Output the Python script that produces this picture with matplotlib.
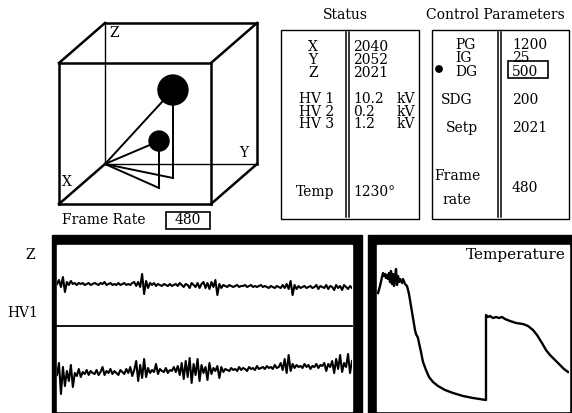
import numpy as np
import matplotlib
matplotlib.use("Agg")
import matplotlib.pyplot as plt
from matplotlib.patches import Rectangle, Circle

plt.rcParams['font.family'] = ['DejaVu Serif', 'DejaVu Sans']

# ---------------- data ----------------
ball_x = [0.35, 0.60]
ball_y = [0.553, 0.537]
ball_z = [0.624, 0.333]
ball_r = [15, 10]

status_axes = ["X", "Y", "Z"]
status_axes_values = ["2040", "2052", "2021"]
status_hv = ["HV 1", "HV 2", "HV 3"]
status_hv_values = ["10.2", "0.2", "1.2"]
status_hv_unit = "kV"
status_temp_label = "Temp"
status_temp_value = "1230°"

control_gain_labels = ["PG", "IG", "DG"]
control_gain_values = ["1200", "25", "500"]
control_other_labels = ["SDG", "Setp", "Frame\nrate"]
control_other_values = ["200", "2021", "480"]
frame_rate = "480"

z_trace = [127, 131, 124, 134, 119, 129, 126, 130, 127, 128,
           126, 128, 127, 128, 126, 127, 128, 126, 127, 128,
           127, 126, 128, 127, 129, 126, 127, 128, 126, 127,
           126, 128, 126, 127, 128, 126, 127, 126, 128, 129,
           125, 129, 124, 137, 117, 130, 123, 128, 126, 128,
           125, 127, 126, 125, 127, 126, 125, 127, 125, 126,
           127, 125, 128, 126, 124, 127, 126, 123, 128, 126,
           124, 128, 123, 127, 129, 123, 128, 122, 129, 124,
           131, 116, 127, 123, 126, 125, 124, 126, 125, 124,
           125, 126, 124, 125, 125, 126, 124, 125, 126, 124,
           125, 124, 125, 126, 124, 125, 124, 123, 125, 124,
           123, 125, 124, 123, 126, 123, 127, 122, 130, 116,
           126, 122, 125, 123, 124, 125, 123, 124, 125, 123,
           124, 126, 122, 125, 124, 123, 126, 122, 125, 124,
           121, 126, 123, 125, 121, 126, 124, 122, 125, 123]

hv1_trace = [36, 48, 17, 44, 25, 40, 30, 46, 24, 38,
             35, 42, 34, 39, 37, 41, 36, 40, 38, 37,
             41, 36, 39, 44, 36, 40, 38, 42, 37, 40,
             38, 36, 41, 39, 37, 42, 38, 44, 35, 41,
             50, 30, 46, 33, 52, 34, 43, 38, 41, 39,
             47, 37, 42, 40, 39, 43, 38, 41, 40, 44,
             39, 45, 36, 48, 32, 50, 34, 53, 28, 47,
             36, 52, 30, 46, 38, 44, 31, 48, 37, 43,
             40, 45, 33, 44, 39, 42, 41, 40, 43, 41,
             42, 40, 44, 41, 43, 42, 40, 44, 42, 43,
             41, 45, 42, 43, 44, 42, 45, 43, 44, 42,
             46, 43, 44, 48, 41, 52, 38, 56, 40, 47,
             43, 46, 44, 45, 43, 47, 44, 46, 42, 45,
             44, 47, 43, 46, 45, 48, 40, 47, 44, 50,
             38, 52, 42, 56, 39, 48, 44, 57, 38, 50]

temp_t = [0, 2, 4, 5, 6, 7, 8, 9, 10, 11, 12, 13, 14, 15, 16, 17, 18, 19, 20,
          21, 22, 24, 25, 27, 29, 31, 33, 35, 37, 38, 39, 40, 41, 43, 45, 48,
          51, 55, 60, 67, 75, 85, 95, 108, 108, 110, 112, 115, 118, 121, 124,
          127, 132, 138, 145, 150, 155, 159, 164, 168, 172, 177, 182, 186, 190]
temp_v = [117, 124, 133, 137, 134, 136, 132, 135, 131, 137, 128, 139, 126, 136,
          124, 133, 141, 125, 134, 128, 131, 127, 131, 126, 124, 116, 104, 92,
          80, 76, 74, 72, 67, 58, 48, 40, 33, 28, 24, 20, 17, 14, 12, 10, 95,
          93, 94, 92, 93, 92, 93, 91, 89, 87, 86, 84, 80, 75, 67, 60, 55, 50,
          45, 41, 38]

# ---------------- figure ----------------
W, H = 572, 413
fig = plt.figure(figsize=(W / 100, H / 100), dpi=100)
ax0 = fig.add_axes([0, 0, 1, 1])
ax0.set_xlim(0, W)
ax0.set_ylim(H, 0)
ax0.axis('off')

FS = 10


def block(x, y_top, lines, ha='left', ls=0.91, fs=FS):
    """multi-line text; y_top is the centre of the first line"""
    ax0.text(x, y_top - 5, "\n".join(lines), fontsize=fs, ha=ha, va='top',
             multialignment=ha, linespacing=ls)


# ---- 3D cube (oblique projection) ----
O = np.array([105.0, 164.0])
ex = np.array([-46.0, 40.0])
ey = np.array([152.0, 0.0])
ez = np.array([0.0, -141.0])


def P(x, y, z):
    return O + x * ex + y * ey + z * ez


corners = [(a, b, c) for a in (0, 1) for b in (0, 1) for c in (0, 1)]
for i, c1 in enumerate(corners):
    for c2 in corners[i + 1:]:
        if sum(abs(u - v) for u, v in zip(c1, c2)) == 1:
            p1, p2 = P(*c1), P(*c2)
            back = (c1[0] == 0 and c2[0] == 0 and
                    ((c1[2] == 0 and c2[2] == 0) or (c1[1] == 0 and c2[1] == 0)))
            lw = 1.0 if back else 1.8
            ax0.plot([p1[0], p2[0]], [p1[1], p2[1]], color='black', lw=lw,
                     solid_capstyle='projecting')

for bx, by, bz, br in zip(ball_x, ball_y, ball_z, ball_r):
    c = P(bx, by, bz)
    f = P(bx, by, 0)
    ax0.plot([O[0], c[0]], [O[1], c[1]], color='black', lw=1.4)
    ax0.plot([O[0], f[0]], [O[1], f[1]], color='black', lw=1.4)
    ax0.plot([f[0], c[0]], [f[1], c[1]], color='black', lw=1.4)
    ax0.add_patch(Circle(c, br, color='black', zorder=5))

pz = P(0, 0, 1)
ax0.text(pz[0] + 4, pz[1] + 10, "Z", fontsize=FS, ha='left', va='center')
ax0.text(67, 182, "X", fontsize=FS, ha='center', va='center')
ax0.text(244, 153, "Y", fontsize=FS, ha='center', va='center')

ax0.text(62, 220, "Frame Rate", fontsize=FS, ha='left', va='center')
ax0.add_patch(Rectangle((166, 212), 44, 17, fill=False, ec='black', lw=1.2))
ax0.text(188, 220.5, frame_rate, fontsize=FS, ha='center', va='center')

# ---- Status panel ----
ax0.text(345, 15, "Status", fontsize=FS, ha='center', va='center')
ax0.add_patch(Rectangle((281, 30), 138, 189, fill=False, ec='black', lw=1.0))
for xv in (346, 349):
    ax0.plot([xv, xv], [32, 217], color='black', lw=1.1)
block(313, 45, status_axes, ha='center', ls=0.91)
block(353, 45, status_axes_values, ls=0.91)
block(317, 97, status_hv, ha='center', ls=0.87)
block(353, 97, status_hv_values, ls=0.87)
block(397, 97, [status_hv_unit] * len(status_hv), ls=0.87)
ax0.text(315, 192, status_temp_label, fontsize=FS, ha='center', va='center')
ax0.text(353, 192, status_temp_value, fontsize=FS, ha='left', va='center')

# ---- Control parameters panel ----
ax0.text(495, 15, "Control Parameters", fontsize=FS, ha='center', va='center')
ax0.add_patch(Rectangle((432, 30), 137, 189, fill=False, ec='black', lw=1.0))
for xv in (498, 501):
    ax0.plot([xv, xv], [32, 217], color='black', lw=1.1)
block(455, 43, control_gain_labels, ls=0.95)
block(512, 43, control_gain_values, ls=0.95)
ax0.add_patch(Circle((439, 69), 3.2, color='black'))
ax0.add_patch(Rectangle((508, 61), 40, 17, fill=False, ec='black', lw=1.2))

o_y = [100, 128, 188]
o_x = [457, 462, 457]
for lab, val, yy, xx in zip(control_other_labels, control_other_values, o_y, o_x):
    ax0.text(xx, yy, lab, fontsize=FS, ha='center', va='center',
             multialignment='center', linespacing=1.9)
    ax0.text(512, yy, val, fontsize=FS, ha='left', va='center')

# ---- bottom-left trace panel ----
ax0.add_patch(Rectangle((52, 235), 310, 178, color='black'))
ax0.add_patch(Rectangle((57, 245), 295, 166, color='white'))
ax0.plot([57, 352], [326, 326], color='black', lw=1.3)
ax0.text(30, 255, "Z", fontsize=FS, ha='center', va='center')
ax0.text(23, 313, "HV1", fontsize=FS, ha='center', va='center')

ax_tr = fig.add_axes([57 / W, (H - 411) / H, 295 / W, 166 / H])
ax_tr.set_xlim(0, 298)
ax_tr.set_ylim(0, 166)
ax_tr.axis('off')
xs = np.arange(len(z_trace)) * 2
ax_tr.plot(xs, z_trace, color='black', lw=1.5)
ax_tr.plot(xs, hv1_trace, color='black', lw=1.5)

# ---- temperature panel ----
ax0.add_patch(Rectangle((368, 235), 204, 178, color='black'))
ax0.add_patch(Rectangle((377, 245), 192, 166, color='white'))
ax0.text(566, 255, "Temperature", fontsize=11, ha='right', va='center')

ax_t = fig.add_axes([377 / W, (H - 411) / H, 192 / W, 166 / H])
ax_t.set_xlim(-1, 191)
ax_t.set_ylim(-1, 165)
ax_t.axis('off')
ax_t.plot(temp_t, temp_v, color='black', lw=1.7)

fig.savefig("out.png", dpi=100)
